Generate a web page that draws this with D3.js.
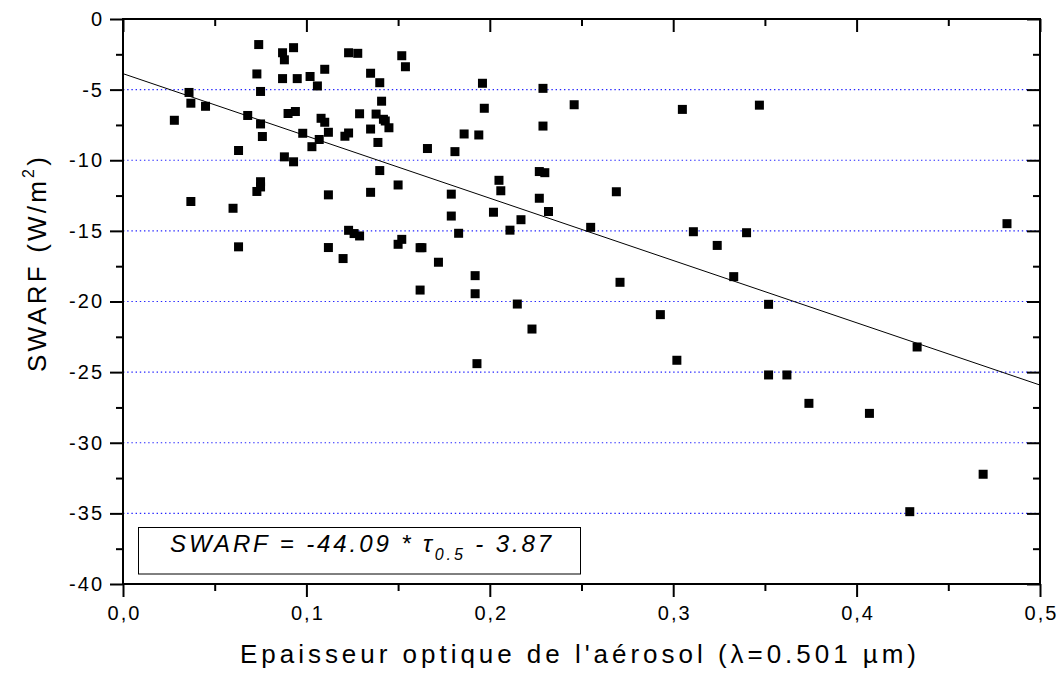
<!DOCTYPE html>
<html>
<head>
<meta charset="utf-8">
<script src="https://cdn.jsdelivr.net/npm/d3@7"></script>
<style>
  html, body { margin: 0; padding: 0; background: #fff; }
  svg { display: block; font-family: Arial, "Liberation Sans", sans-serif; }
</style>
</head>
<body>
<svg id="chart" width="1061" height="677"></svg>
<script>
// Aerosol optical depth at 0.501 µm
const tau = [
  0.028, 0.036, 0.037, 0.045, 0.037, 0.060, 0.063, 0.063, 0.068, 0.074,
  0.073, 0.075, 0.075, 0.076, 0.075, 0.075, 0.073, 0.087, 0.093, 0.088,
  0.087, 0.095, 0.102, 0.110, 0.106, 0.123, 0.128, 0.135, 0.140, 0.090,
  0.094, 0.098, 0.108, 0.110, 0.112, 0.107, 0.103, 0.121, 0.123, 0.129,
  0.138, 0.135, 0.141, 0.139, 0.088, 0.093, 0.140, 0.112, 0.135, 0.123,
  0.126, 0.129, 0.112, 0.120, 0.152, 0.154, 0.142, 0.143, 0.145, 0.166,
  0.181, 0.196, 0.229, 0.197, 0.246, 0.229, 0.186, 0.194, 0.150, 0.227,
  0.230, 0.205, 0.206, 0.179, 0.227, 0.232, 0.269, 0.179, 0.202, 0.217,
  0.211, 0.255, 0.183, 0.152, 0.150, 0.162, 0.163, 0.172, 0.162, 0.192,
  0.192, 0.271, 0.215, 0.223, 0.193, 0.293, 0.302, 0.311, 0.324, 0.340,
  0.333, 0.352, 0.352, 0.362, 0.374, 0.407, 0.433, 0.482, 0.469, 0.429,
  0.305, 0.347
];
// Shortwave aerosol radiative forcing (W/m²)
const swarf = [
  -7.17, -5.20, -5.96, -6.18, -12.92, -13.40, -16.13, -9.31, -6.83, -1.81,
  -3.89, -5.13, -7.43, -8.32, -11.52, -11.89, -12.21, -2.39, -2.03, -2.89,
  -4.22, -4.22, -4.07, -3.56, -4.74, -2.39, -2.43, -3.84, -4.51, -6.69,
  -6.55, -8.09, -7.03, -7.31, -8.02, -8.53, -9.04, -8.30, -8.07, -6.71,
  -6.73, -7.79, -5.82, -8.74, -9.76, -10.11, -10.73, -12.45, -12.27, -14.96,
  -15.19, -15.36, -16.18, -16.96, -2.60, -3.38, -7.10, -7.22, -7.70, -9.17,
  -9.39, -4.55, -4.91, -6.32, -6.07, -7.58, -8.14, -8.21, -11.75, -10.80,
  -10.88, -11.42, -12.16, -12.40, -12.69, -13.63, -12.23, -13.95, -13.68, -14.21,
  -14.95, -14.75, -15.17, -15.60, -15.95, -16.19, -16.19, -17.22, -19.19, -18.17,
  -19.45, -18.64, -20.18, -21.95, -24.40, -20.93, -24.16, -15.06, -16.03, -15.13,
  -18.24, -20.20, -25.20, -25.20, -27.21, -27.92, -23.22, -14.49, -32.23, -34.88,
  -6.40, -6.10
];
// Linear fit: SWARF = slope * tau + intercept
const slope = -44.09;
const intercept = -3.87;

const xMajorTicks = [0, 0.1, 0.2, 0.3, 0.4, 0.5];
const xMinorTicks = [0.05, 0.15, 0.25, 0.35, 0.45];
const yMajorTicks = [0, -5, -10, -15, -20, -25, -30, -35, -40];
const yMinorTicks = [-2.5, -7.5, -12.5, -17.5, -22.5, -27.5, -32.5, -37.5];
const gridValues = [-5, -10, -15, -20, -25, -30, -35];

const xTitle = "Epaisseur optique de l'aérosol (λ=0.501 µm)";
const yTitle = "SWARF (W/m";

const svg = d3.select("#chart");
const plotLeft = 123, plotRight = 1040, plotTop = 19, plotBottom = 584;

const x = d3.scaleLinear().domain([0, 0.5]).range([plotLeft, plotRight]);
const y = d3.scaleLinear().domain([-40, 0]).range([plotBottom, plotTop]);

const fmtX = d => d3.format(".1f")(d).replace(".", ",");
const fmtY = d => d3.format("d")(d).replace("−", "-");

// dotted horizontal grid
svg.append("g").selectAll("line").data(gridValues).join("line")
  .attr("x1", plotLeft).attr("x2", plotRight)
  .attr("y1", d => y(d)).attr("y2", d => y(d))
  .attr("stroke", "#2525ff").attr("stroke-width", 1.1)
  .attr("stroke-dasharray", "1.4,2.8");

// regression line
svg.append("line")
  .attr("x1", x(0)).attr("y1", y(intercept))
  .attr("x2", x(0.5)).attr("y2", y(slope * 0.5 + intercept))
  .attr("stroke", "#000").attr("stroke-width", 1);

// data points
const sz = 9;
svg.append("g").selectAll("rect").data(tau.map((t, i) => [t, swarf[i]])).join("rect")
  .attr("x", d => x(d[0]) - sz / 2).attr("y", d => y(d[1]) - sz / 2)
  .attr("width", sz).attr("height", sz).attr("fill", "#000");

// axes
function styleAxis(g) {
  g.select(".domain").remove();
  g.selectAll(".tick line").attr("stroke", "#000").attr("stroke-width", 2);
}
const maj = 13, mnr = 7;
const labelFont = "Arial, 'Liberation Sans', sans-serif";

const gxb = svg.append("g").attr("transform", `translate(0,${plotBottom})`)
  .call(d3.axisBottom(x).tickValues(xMajorTicks).tickSize(maj).tickFormat(fmtX).tickPadding(9));
styleAxis(gxb);
gxb.selectAll("text").attr("font-size", 20).attr("letter-spacing", "2px")
  .attr("dx", "1px").attr("fill", "#000").attr("font-family", labelFont);
svg.append("g").attr("transform", `translate(0,${plotBottom})`)
  .call(d3.axisBottom(x).tickValues(xMinorTicks).tickSize(mnr).tickFormat(""))
  .call(styleAxis);

svg.append("g").attr("transform", `translate(0,${plotTop})`)
  .call(d3.axisTop(x).tickValues(xMajorTicks).tickSize(-maj).tickFormat(""))
  .call(styleAxis);
svg.append("g").attr("transform", `translate(0,${plotTop})`)
  .call(d3.axisTop(x).tickValues(xMinorTicks).tickSize(-mnr).tickFormat(""))
  .call(styleAxis);

const gyl = svg.append("g").attr("transform", `translate(${plotLeft},0)`)
  .call(d3.axisLeft(y).tickValues(yMajorTicks).tickSize(maj).tickFormat(fmtY).tickPadding(6));
styleAxis(gyl);
gyl.selectAll("text").attr("font-size", 20).attr("letter-spacing", "2px")
  .attr("fill", "#000").attr("font-family", labelFont);
svg.append("g").attr("transform", `translate(${plotLeft},0)`)
  .call(d3.axisLeft(y).tickValues(yMinorTicks).tickSize(mnr).tickFormat(""))
  .call(styleAxis);

svg.append("g").attr("transform", `translate(${plotRight},0)`)
  .call(d3.axisRight(y).tickValues(yMajorTicks).tickSize(-maj).tickFormat(""))
  .call(styleAxis);
svg.append("g").attr("transform", `translate(${plotRight},0)`)
  .call(d3.axisRight(y).tickValues(yMinorTicks).tickSize(-mnr).tickFormat(""))
  .call(styleAxis);

// frame
svg.append("rect").attr("x", plotLeft).attr("y", plotTop)
  .attr("width", plotRight - plotLeft).attr("height", plotBottom - plotTop)
  .attr("fill", "none").attr("stroke", "#000").attr("stroke-width", 2);

// spread a text element's letters to a given overall width
function fitSpacing(sel, width) {
  const node = sel.node();
  const n = node.textContent.length;
  const natural = node.getComputedTextLength();
  const ls = Math.max(0, (width - natural) / n);
  sel.attr("letter-spacing", ls + "px");
}

// x title
const xt = svg.append("text").attr("x", 240).attr("y", 663)
  .attr("font-size", 26).attr("fill", "#000").text(xTitle);
fitSpacing(xt, 680);

// y title (rotated)
const yt = svg.append("text")
  .attr("transform", "translate(46,372) rotate(-90)")
  .attr("font-size", 26).attr("fill", "#000");
yt.append("tspan").text(yTitle);
yt.append("tspan").attr("font-size", 16).attr("dy", -12).text("2");
yt.append("tspan").attr("dy", 12).text(")");
fitSpacing(yt, 218);

// equation box
svg.append("rect").attr("x", 138.5).attr("y", 527.5).attr("width", 442).attr("height", 46.5)
  .attr("fill", "#fff").attr("stroke", "#000").attr("stroke-width", 1);
const eq = svg.append("text").attr("x", 170).attr("y", 552)
  .attr("font-size", 24).attr("font-style", "italic").attr("fill", "#000");
eq.append("tspan").text(`SWARF = ${slope.toFixed(2)} * τ`);
eq.append("tspan").attr("font-size", 16).attr("dy", 8).text("0.5");
eq.append("tspan").attr("dy", -8).text(` - ${Math.abs(intercept).toFixed(2)}`);
fitSpacing(eq, 384);
</script>
</body>
</html>
